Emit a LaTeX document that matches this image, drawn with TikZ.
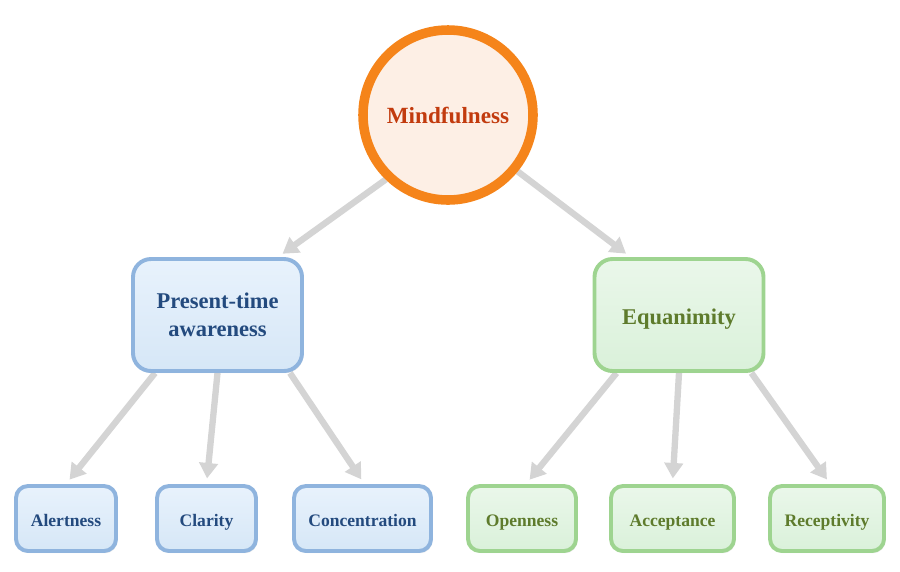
\documentclass[tikz,border=0pt]{standalone}
\usepackage{fontspec}
\setmainfont{Liberation Serif}
\usepackage{xcolor}
\definecolor{ringorange}{HTML}{F5841A}
\definecolor{ringfill}{HTML}{FDEFE5}
\definecolor{ringtext}{HTML}{C23B0E}
\definecolor{blueline}{HTML}{8FB4DE}
\definecolor{bluetop}{HTML}{E8F2FC}
\definecolor{bluebot}{HTML}{D6E7F7}
\definecolor{bluetext}{HTML}{234A7E}
\definecolor{greenline}{HTML}{9ED490}
\definecolor{greentop}{HTML}{EAF7EA}
\definecolor{greenbot}{HTML}{DAF1DA}
\definecolor{greentext}{HTML}{5E7B2C}
\definecolor{arrowgray}{HTML}{D4D4D4}
\usetikzlibrary{arrows.meta,shadows,backgrounds}

\begin{document}
\begin{tikzpicture}[
  root/.style={circle, draw=ringorange, line width=6.8pt, fill=ringfill, text=ringtext, minimum size=4.25cm, inner sep=0pt, font=\fontsize{16.5}{20}\selectfont\bfseries, drop shadow={opacity=0.15, shadow xshift=1pt, shadow yshift=-1.5pt}},
  bluebox/.style={draw=blueline, line width=2.8pt, top color=bluetop, bottom color=bluebot, text=bluetext, rounded corners=0.45cm, align=center, drop shadow={opacity=0.15, shadow xshift=1pt, shadow yshift=-1.5pt}},
  greenbox/.style={draw=greenline, line width=2.8pt, top color=greentop, bottom color=greenbot, text=greentext, rounded corners=0.45cm, align=center, drop shadow={opacity=0.15, shadow xshift=1pt, shadow yshift=-1.5pt}},
  mid/.style={minimum width=4.225cm, minimum height=2.8cm, font=\fontsize{16}{20}\selectfont\bfseries},
  leaf/.style={minimum height=1.625cm, rounded corners=0.3cm, text height=12pt, text depth=0pt, font=\fontsize{12.5}{15}\selectfont\bfseries},
  arr/.style={-{Triangle[length=11pt, width=13pt]}, line width=4.5pt, arrowgray, shorten >=4pt}
]
  \useasboundingbox (0,0) rectangle (22.5,-14.275);

  \node[root] (mind) at (11.2,-2.875) {Mindfulness};
  \node[bluebox, mid] (present) at (5.4375,-7.875) {Present-time\\awareness};
  \node[greenbox, mid, text height=14pt, text depth=0pt] (equan) at (16.975,-7.875) {Equanimity};

  \node[bluebox, leaf, minimum width=2.5cm] (alert) at (1.65,-12.9625) {Alertness};
  \node[bluebox, leaf, minimum width=2.475cm] (clar) at (5.1625,-12.9625) {Clarity};
  \node[bluebox, leaf, minimum width=3.425cm] (conc) at (9.0625,-12.9625) {Concentration};
  \node[greenbox, leaf, minimum width=2.7cm] (open) at (13.05,-12.9625) {Openness};
  \node[greenbox, leaf, minimum width=3.075cm] (accept) at (16.8125,-12.9625) {Acceptance};
  \node[greenbox, leaf, minimum width=2.85cm] (recep) at (20.675,-12.9625) {Receptivity};

  \begin{scope}[on background layer]
  % top level
  \draw[arr] (mind.226) -- ([xshift=-0.65cm]present.north east);
  \draw[arr] (mind.321) -- ([xshift=0.95cm]equan.north west);
  % left branch
  \draw[arr] ([xshift=0.6cm]present.south west) -- (alert.north);
  \draw[arr] (present.south) -- (clar.north);
  \draw[arr] ([xshift=-0.35cm]present.south east) -- ([xshift=0.05cm]conc.north);
  % right branch
  \draw[arr] ([xshift=0.6cm]equan.south west) -- ([xshift=0.1cm]open.north);
  \draw[arr] (equan.south) -- (accept.north);
  \draw[arr] ([xshift=-0.35cm]equan.south east) -- ([xshift=0.08cm]recep.north);
  \end{scope}
\end{tikzpicture}
\end{document}
